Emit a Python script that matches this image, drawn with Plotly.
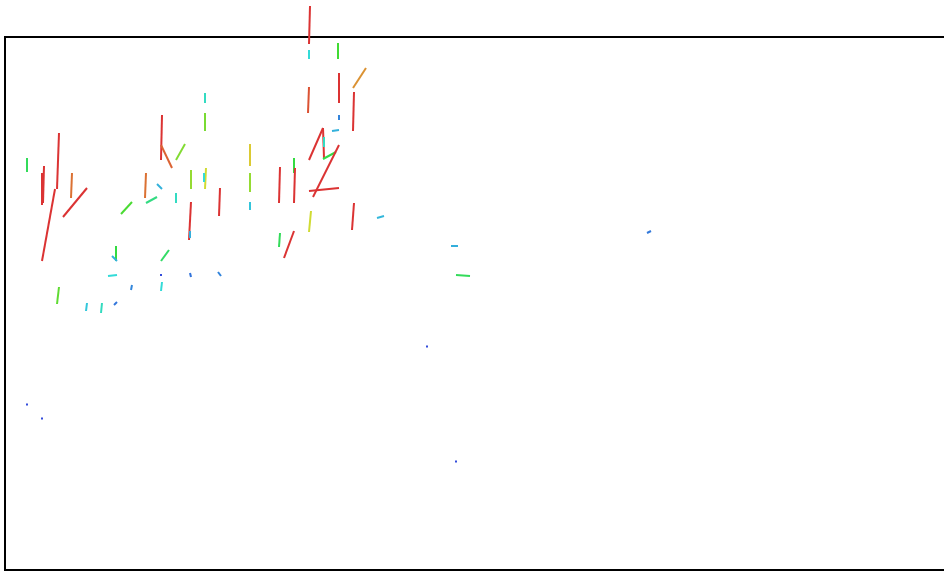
import math
import plotly.graph_objects as go

# Vector segments: start point (x, y) and components (u, v)
x_start = [205, 205, 59, 162, 161, 185, 27, 44, 42, 55, 72, 87, 146, 157, 132, 157, 176, 191, 206, 204,
           220, 191, 190, 116, 112, 169, 108, 161, 190, 218, 132, 162, 59, 87, 102, 117,
           309, 339, 338, 309, 310, 366, 354, 339, 332, 323, 323, 324, 323, 339, 309, 280, 294, 295,
           311, 354, 377, 280, 294, 250, 250, 250, 451, 456, 647, 26, 41, 455, 426]
y_start = [93, 113, 133, 115, 145, 144, 158, 166, 173, 189, 173, 188, 173, 184, 202, 197, 193, 170, 168, 173,
           188, 202, 231, 246, 256, 250, 276, 274, 273, 272, 285, 282, 287, 303, 303, 302,
           87, 73, 43, 50, 6, 68, 92, 115, 131, 128, 128, 137, 159, 145, 191, 167, 158, 168,
           211, 203, 218, 233, 231, 144, 173, 202, 246, 275, 233, 404.5, 418.5, 461.5, 346.5]
u_comp = [0, 0, -2, -1, 11, -9, 0, -1, 0, -13, -1, -24, -1, 5, -11, -11, 0, 0, -1, 0,
          -1, -2, 0, 0, 5, -8, 9, 0, 1, 3, -1, -1, -2, -1, -1, -3,
          -1, 0, 0, 0, -1, -13, -1, 0, 7, -14, 1, 0, 13, -26, 30, -1, 0, -1,
          -2, -2, 7, -1, -10, 0, 0, 0, 7, 14, 4, 2, 2, 2, 2]
v_comp = [10, 18, 56, 45, 23, 16, 14, 37, 32, 72, 25, 29, 25, 5, 12, 6, 10, 19, 21, 9,
          28, 38, 7, 15, 5, 11, -1, 2, 4, 4, 5, 9, 17, 8, 10, 3,
          26, 30, 16, 9, 38, 20, 39, 5, -1, 32, 30, 10, -7, 52, -3, 36, 15, 35,
          21, 27, -2, 14, 27, 22, 19, 8, 0, 1, -2, 0, 0, 0, 0]

# Frame (box) limits
frame_x = [5, 970]
frame_y = [37, 570]


def colour_for(mag, cap=27.0, power=1.25):
    t = min((mag / cap) ** power, 1.0)
    hue = 240.0 * (1.0 - t)
    return f"hsl({hue:.0f},70%,53%)"


fig = go.Figure()
for xs, ys, u, v in zip(x_start, y_start, u_comp, v_comp):
    mag = math.hypot(u, v)
    fig.add_trace(go.Scatter(
        x=[xs, xs + u], y=[ys, ys + v], mode="lines",
        line=dict(color=colour_for(mag), width=2),
        hoverinfo="skip", showlegend=False,
    ))

fig.add_shape(type="rect", x0=frame_x[0], x1=frame_x[1], y0=frame_y[0], y1=frame_y[1],
              xref="x", yref="y", line=dict(color="black", width=2), layer="below")

fig.update_layout(
    width=944, height=572,
    margin=dict(l=0, r=0, t=0, b=0),
    paper_bgcolor="white", plot_bgcolor="white",
    xaxis=dict(range=[0, 944], visible=False, fixedrange=True),
    yaxis=dict(range=[572, 0], visible=False, fixedrange=True),
    showlegend=False,
)

fig.write_html("out.html", config={"displayModeBar": False},
               post_script="document.body.style.margin='0';document.body.style.overflow='hidden';")
